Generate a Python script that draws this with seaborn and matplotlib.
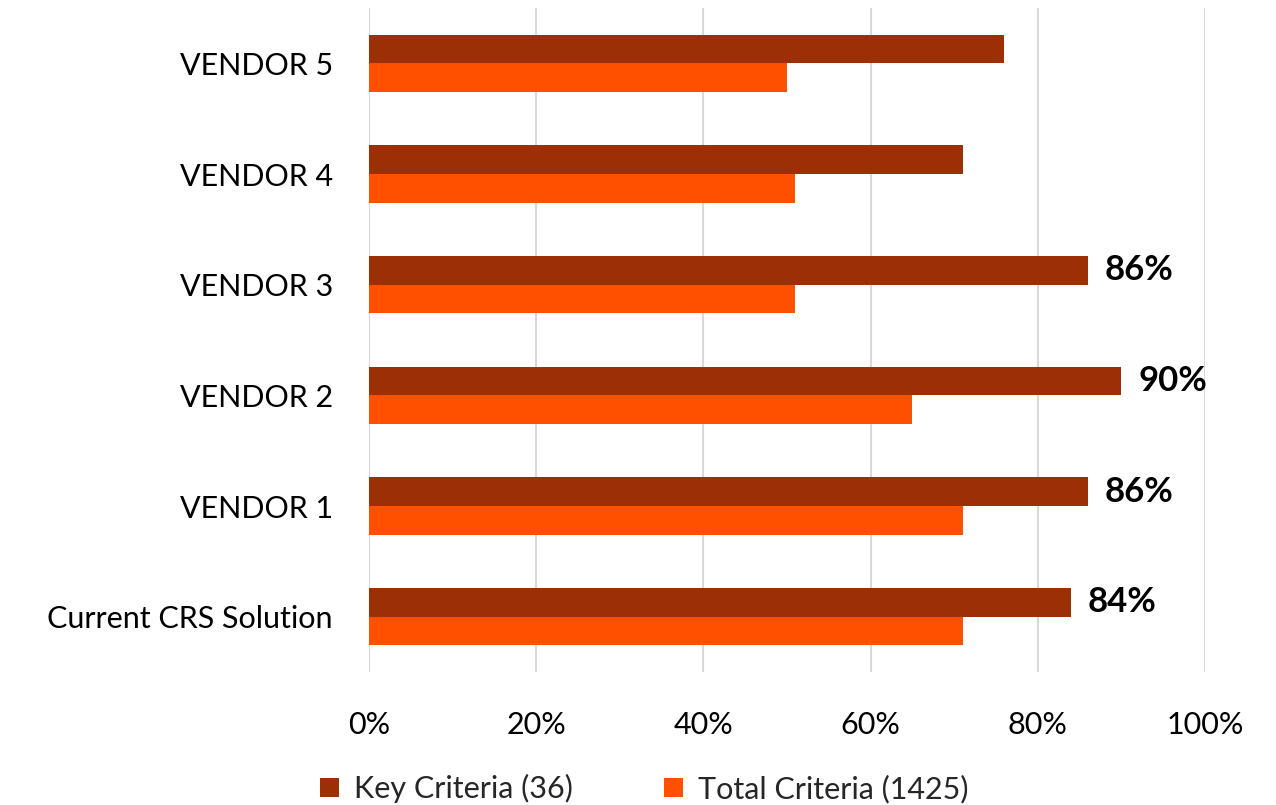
import matplotlib
matplotlib.use("Agg")
import matplotlib.pyplot as plt
from matplotlib.ticker import PercentFormatter
import seaborn as sns
import pandas as pd

# Data
vendors = ["VENDOR 5", "VENDOR 4", "VENDOR 3", "VENDOR 2", "VENDOR 1", "Current CRS Solution"]
key_criteria = [76, 71, 86, 90, 86, 84]
total_criteria = [50, 51, 51, 65, 71, 71]
series_names = ["Key Criteria (36)", "Total Criteria (1425)"]
labelled = ["VENDOR 3", "VENDOR 2", "VENDOR 1", "Current CRS Solution"]

df = pd.DataFrame({
    "vendor": vendors * 2,
    "value": key_criteria + total_criteria,
    "series": [series_names[0]] * len(vendors) + [series_names[1]] * len(vendors),
})

sns.set_theme(style="white")
plt.rcParams["font.family"] = ["Lato", "DejaVu Sans"]
fsize = 22

fig = plt.figure(figsize=(12.76, 8.05), dpi=100)
ax = fig.add_axes([0.2892, 0.1652, 0.6552, 0.8248])

palette = {series_names[0]: "#9C2F05", series_names[1]: "#FF5000"}
sns.barplot(data=df, x="value", y="vendor", hue="series", order=vendors,
            hue_order=series_names, palette=palette, width=0.52,
            saturation=1, linewidth=0, ax=ax, legend=True)

# Data labels on the key criteria bars
key_bars = ax.containers[0]
labels = [f"{v}%" if name in labelled else "" for name, v in zip(vendors, key_criteria)]
ax.bar_label(key_bars, labels=labels, padding=12, fontsize=25, fontweight="bold", color="black")

ax.set_xlim(0, 100)
ax.set_ylim(len(vendors) - 0.5, -0.5)
ax.xaxis.set_major_formatter(PercentFormatter(decimals=0))
ax.set_xticks([0, 20, 40, 60, 80, 100])
ax.grid(axis="x", color="#D9D9D9", linewidth=1.5)
ax.set_axisbelow(True)
for s in ax.spines.values():
    s.set_visible(False)
ax.set_xlabel("")
ax.set_ylabel("")
ax.tick_params(axis="x", labelsize=fsize, pad=28, length=0, colors="black")
ax.tick_params(axis="y", labelsize=fsize, pad=26, length=0, colors="black")

handles, lbls = ax.get_legend_handles_labels()
ax.legend_.remove()
fig.legend(handles, lbls, loc="lower center", bbox_to_anchor=(0.505, -0.032), ncol=2,
           frameon=False, fontsize=fsize, handlelength=0.6, handleheight=0.6,
           handletextpad=0.5, columnspacing=3.0)

fig.savefig("out.png", dpi=100)
